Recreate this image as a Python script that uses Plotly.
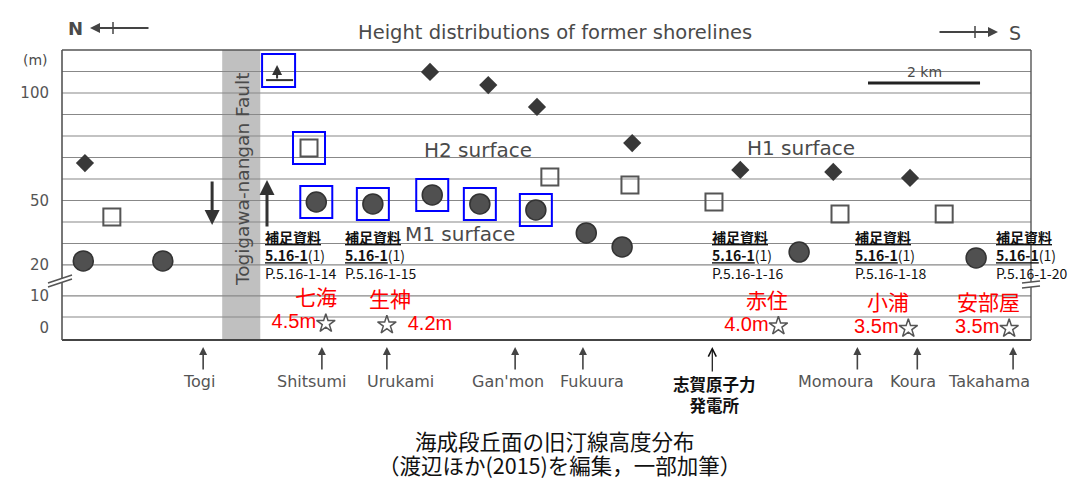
import plotly.graph_objects as go

# position along the coast in km from the north end of the profile, height in m
diamond_x = [0.41, 6.57, 7.61, 8.48, 10.18, 12.11, 13.77, 15.14]
diamond_h = [67.4, 109.8, 103.7, 93.5, 76.7, 64.2, 63.3, 60.5]

square_x = [0.89, 4.41, 8.71, 10.14, 11.64, 13.89, 15.75]
square_h = [42.3, 74.4, 60.9, 57.2, 49.3, 43.7, 43.7]

circle_x = [0.38, 1.80, 4.54, 5.55, 6.61, 7.46, 8.46, 9.36, 10.00, 13.16, 16.32]
circle_h = [21.9, 21.9, 49.3, 48.4, 52.6, 48.4, 45.6, 34.9, 28.4, 26.0, 23.3]

# shoreline higher than this (arrow symbol)
above_x = 3.84
above_h = 106.0

# points framed in blue
boxed_sq = [1]
boxed_ci = [2, 3, 4, 5, 6]

site_names = ["七海", "生神", "赤住", "小浦", "安部屋"]
site_x = [4.71, 5.80, 12.79, 15.11, 16.91]
site_h = [4.5, 4.2, 4.0, 3.5, 3.5]
site_pages = ["P.5.16-1-14", "P.5.16-1-15", "P.5.16-1-16", "P.5.16-1-18", "P.5.16-1-20"]

loc_names = ["Togi", "Shitsumi", "Urukami", "Gan'mon", "Fukuura", "Momoura", "Koura", "Takahama"]
loc_x = [2.52, 4.64, 5.80, 8.09, 9.30, 14.20, 15.27, 16.98]
plant_name = "志賀原子力<br>発電所"
plant_x = 11.61

fault_x = [2.86, 3.54]
scale_km = 2

tick_text = ["100", "50", "20", "10", "0"]

# the page body has an 8px margin, so the figure is drawn 8px in
PAGE = 8
W, H = 1088 - PAGE, 482 - PAGE
L, R, T, B = 62 - PAGE, 57, 50 - PAGE, 142
PW, PH = W - L - R, H - T - B


# page pixel -> paper coordinate
def px(p):
    return (p - 62) / PW


def py(p):
    return (340 - p) / PH


def ypos(h):
    # axis is broken between 20 m and 10 m
    return h if h >= 20 else 5.6 + (h - 10) * 2.33


GREY = "#4a4a4a"
EN = "DejaVu Sans"
JP = "Noto Sans CJK JP"

fig = go.Figure()

fig.add_trace(go.Scatter(x=diamond_x, y=diamond_h, mode="markers",
                         marker=dict(symbol="diamond", size=14, color="#383838"),
                         hoverinfo="skip"))
fig.add_trace(go.Scatter(x=square_x, y=square_h, mode="markers",
                         marker=dict(symbol="square-open", size=17, color="#555555",
                                     line=dict(width=2)),
                         hoverinfo="skip"))
fig.add_trace(go.Scatter(x=circle_x, y=circle_h, mode="markers",
                         marker=dict(symbol="circle", size=20, color="#505050",
                                     line=dict(color="#333333", width=1.5)),
                         hoverinfo="skip"))

star_pos = ["middle left", "middle right", "middle left", "middle left", "middle left"]
star_txt = [("%.1fm" if p == "middle left" else "  %.1fm") % h for h, p in zip(site_h, star_pos)]
fig.add_trace(go.Scatter(x=site_x, y=[ypos(h) for h in site_h], mode="markers+text",
                         marker=dict(symbol="star-open", size=14, color="#555555",
                                     line=dict(width=1.5)),
                         text=star_txt, textposition=star_pos,
                         textfont=dict(family="Liberation Sans", size=20, color="#ff0000"),
                         hoverinfo="skip"))

# scale bar
sx0 = 14.39
fig.add_trace(go.Scatter(x=[sx0, sx0 + scale_km], y=[104.7, 104.7], mode="lines",
                         line=dict(color="#222222", width=3), hoverinfo="skip"))

shapes = []
shapes.append(dict(type="rect", xref="x", yref="paper", x0=fault_x[0], x1=fault_x[1],
                   y0=0, y1=1, fillcolor="#c0c0c0", line=dict(width=0), layer="below"))
grid = [110, 100, 90, 80, 70, 60, 50, 40, 30, 20, 5.6, -4.2]
for g in grid:
    shapes.append(dict(type="line", xref="paper", yref="y", x0=0, x1=1, y0=g, y1=g,
                       line=dict(color="#888888", width=1.2), layer="below"))

# frame with breaks
fc = "#555555"
gl0, gl1 = py(282.3), py(278.3)
gr0, gr1 = py(287), py(282)
shapes += [
    dict(type="line", xref="paper", yref="paper", x0=0, x1=1, y0=1, y1=1, line=dict(color=fc, width=1.3)),
    dict(type="line", xref="paper", yref="paper", x0=0, x1=1, y0=0, y1=0, line=dict(color="#444444", width=2.2)),
    dict(type="line", xref="paper", yref="paper", x0=0, x1=0, y0=0, y1=gl0, line=dict(color=fc, width=1.6)),
    dict(type="line", xref="paper", yref="paper", x0=0, x1=0, y0=gl1, y1=1, line=dict(color=fc, width=1.6)),
    dict(type="line", xref="paper", yref="paper", x0=px(48), x1=px(72), y0=py(283), y1=py(275), line=dict(color=fc, width=1.4)),
    dict(type="line", xref="paper", yref="paper", x0=px(48), x1=px(72), y0=py(287), y1=py(279), line=dict(color=fc, width=1.4)),
    dict(type="line", xref="paper", yref="paper", x0=1, x1=1, y0=0, y1=gr0, line=dict(color=fc, width=1.4)),
    dict(type="line", xref="paper", yref="paper", x0=1, x1=1, y0=gr1, y1=1, line=dict(color=fc, width=1.4)),
    dict(type="line", xref="paper", yref="paper", x0=px(1022), x1=px(1040), y0=py(283), y1=py(281), line=dict(color=fc, width=1.4)),
    dict(type="line", xref="paper", yref="paper", x0=px(1022), x1=px(1040), y0=py(288), y1=py(286), line=dict(color=fc, width=1.4)),
]

# arrow symbol base line
shapes.append(dict(type="line", xref="x", yref="y", xsizemode="pixel", ysizemode="pixel",
                   xanchor=above_x, yanchor=above_h, x0=-11, x1=16, y0=0, y1=0,
                   line=dict(color="#333333", width=2)))

# blue frames
boxed = [(above_x, above_h, -15, 18, -7, 26)]
boxed += [(square_x[i], square_h[i], -16, 16, -16, 16) for i in boxed_sq]
boxed += [(circle_x[i], circle_h[i], -16, 16, -16, 16) for i in boxed_ci]
for bx, by, a0, a1, b0, b1 in boxed:
    shapes.append(dict(type="rect", xref="x", yref="y", xsizemode="pixel", ysizemode="pixel",
                       xanchor=bx, yanchor=by, x0=a0, x1=a1, y0=b0, y1=b1,
                       line=dict(color="#0000ff", width=2)))

# N / S direction arrows ticks
shapes.append(dict(type="line", xref="paper", yref="paper", x0=px(113), x1=px(113),
                   y0=py(22), y1=py(34), line=dict(color="#444444", width=1.5)))
shapes.append(dict(type="line", xref="paper", yref="paper", x0=px(975), x1=px(975),
                   y0=py(26), y1=py(38), line=dict(color="#444444", width=1.5)))

ann = []


def txt(x, y, s, size, color=GREY, family=EN, **kw):
    d = dict(x=px(x), y=py(y), xref="paper", yref="paper", text=s, showarrow=False,
             xanchor="center", yanchor="middle",
             font=dict(family=family, size=size, color=color))
    d.update(kw)
    ann.append(d)


txt(75, 28, "<b>N</b>", 18)
ann.append(dict(x=px(90), y=py(28), xref="paper", yref="paper", text="", showarrow=True,
                ax=60, ay=0, arrowhead=2, arrowsize=1, arrowwidth=2, arrowcolor="#444444"))
ann.append(dict(x=px(998), y=py(32), xref="paper", yref="paper", text="", showarrow=True,
                ax=-60, ay=0, arrowhead=2, arrowsize=1, arrowwidth=2, arrowcolor="#444444"))
txt(1015, 33, "S", 19)
txt(555, 32, "Height distributions of former shorelines", 19.5)
txt(35, 60, "(m)", 14)
txt(924, 72, "2 km", 14)
txt(478, 150, "H2 surface", 20)
txt(801, 148, "H1 surface", 20)
txt(460, 234, "M1 surface", 20)
txt(242, 180, "Togigawa-nangan Fault", 18.5, textangle=-90)

# fault displacement arrows
ann.append(dict(x=2.68, y=38.6, ax=2.68, ay=59.5, xref="x", yref="y", axref="x", ayref="y",
                text="", showarrow=True, arrowhead=2, arrowsize=1, arrowwidth=3, arrowcolor="#333333"))
ann.append(dict(x=3.66, y=59.5, ax=3.66, ay=37.2, xref="x", yref="y", axref="x", ayref="y",
                text="", showarrow=True, arrowhead=2, arrowsize=1, arrowwidth=3, arrowcolor="#333333"))
# arrow of the "higher than" symbol
ann.append(dict(x=above_x, y=above_h, xref="x", yref="y", yshift=15, ax=0, ay=15, text="",
                showarrow=True, arrowhead=2, arrowsize=1, arrowwidth=2, arrowcolor="#333333"))

# reference blocks
block_px = [263, 343, 710, 853, 994]
for bxp, page in zip(block_px, site_pages):
    s = ("<b><u>補足資料</u></b><br><b><u>5.16-1</u></b>(1)<br>" + page)
    ann.append(dict(x=px(bxp), y=py(255), xref="paper", yref="paper", text=s, showarrow=False,
                    xanchor="left", yanchor="middle", align="left",
                    font=dict(family=JP, size=14, color="#111111")))

# red site names
name_shift = [-10, 3, -11, -20, -21]
for n, sx, sh, dx in zip(site_names, site_x, site_h, name_shift):
    ann.append(dict(x=sx, y=ypos(sh), xref="x", yref="y", xshift=dx, yshift=27, text=n,
                    showarrow=False, font=dict(family=JP, size=21, color="#ff0000")))

# localities below the axis
name_dx = [-4, -10, 14, -7, 9, -21, -4, -24]
for n, lx, dx in zip(loc_names, loc_x, name_dx):
    ann.append(dict(x=lx, y=py(347), xref="x", yref="paper", text="", showarrow=True,
                    ax=0, ay=24, arrowhead=2, arrowsize=1, arrowwidth=1.6, arrowcolor="#444444"))
    ann.append(dict(x=lx, y=py(381), xref="x", yref="paper", xshift=dx, text=n, showarrow=False,
                    xanchor="center", yanchor="middle",
                    font=dict(family=EN, size=16, color="#555555")))
ann.append(dict(x=plant_x, y=py(347), xref="x", yref="paper", text="", showarrow=True,
                ax=0, ay=26, arrowhead=5, arrowsize=1.3, arrowwidth=1.2, arrowcolor="#111111"))
ann.append(dict(x=plant_x, y=py(394), xref="x", yref="paper", xshift=2,
                text="<b>" + plant_name + "</b>", showarrow=False, xanchor="center", yanchor="middle",
                font=dict(family=JP, size=16.5, color="#111111")))

txt(555, 440, "海成段丘面の旧汀線高度分布", 21.5, color="#111111", family=JP)
txt(559, 465, "（渡辺ほか(2015)を編集，一部加筆）", 21.5, color="#111111", family=JP)

fig.update_layout(
    width=W, height=H,
    margin=dict(l=L, r=R, t=T, b=B, autoexpand=False),
    paper_bgcolor="white", plot_bgcolor="white",
    showlegend=False,
    shapes=shapes,
    annotations=ann,
    xaxis=dict(range=[0, 17.3], showgrid=False, zeroline=False, showticklabels=False,
               showline=False, ticks=""),
    yaxis=dict(range=[-14.9, 120], showgrid=False, zeroline=False, showline=False,
               tickvals=[100, 50, 20, 5.6, -9.3], ticktext=tick_text, ticks="",
               ticklabelstandoff=12,
               tickfont=dict(family=EN, size=15, color="#555555")),
)

fig.write_html("out.html")
